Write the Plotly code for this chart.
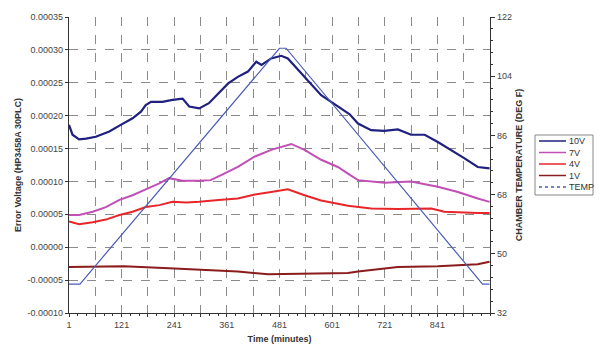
import plotly.graph_objects as go

# ---- data ----
v10_min = [1, 9, 24, 40, 62, 93, 119, 146, 165, 176, 188, 214, 237, 260, 275, 298, 320, 341, 364, 386,
           409, 428, 440, 462, 485, 500, 538, 576, 614, 641, 660, 690, 720, 751, 781, 812, 842, 872, 903, 933, 960]
v10_val = [0.000186, 0.000171, 0.000164, 0.000165, 0.000168, 0.000176, 0.000186, 0.000196, 0.000206, 0.000216,
           0.000221, 0.000221, 0.000224, 0.000226, 0.000214, 0.000211, 0.000219, 0.000234, 0.000249, 0.000259,
           0.000267, 0.000282, 0.000277, 0.000287, 0.000291, 0.000287, 0.000259, 0.000231, 0.000214, 0.000202,
           0.000188, 0.000178, 0.000177, 0.000179, 0.000171, 0.000171, 0.000160, 0.000148, 0.000135, 0.000122, 0.000120]

v7_min = [1, 24, 55, 85, 116, 146, 176, 207, 229, 260, 298, 324, 349, 386, 425, 462, 508, 538, 576, 614,
          637, 660, 720, 781, 842, 888, 933, 960]
v7_val = [0.000049, 0.000049, 0.000054, 0.000061, 0.000072, 0.000079, 0.000088, 0.000097, 0.000105, 0.000101,
          0.000101, 0.000102, 0.000110, 0.000122, 0.000138, 0.000148, 0.000157, 0.000148, 0.000133, 0.000122,
          0.000112, 0.000102, 0.000098, 0.000100, 0.000092, 0.000084, 0.000074, 0.000069]

v4_min = [1, 24, 55, 85, 116, 146, 176, 207, 237, 268, 298, 324, 349, 386, 425, 462, 500, 538, 576, 614,
          637, 690, 751, 827, 857, 933, 960]
v4_val = [0.000039, 0.000035, 0.000038, 0.000042, 0.000049, 0.000054, 0.000061, 0.000064, 0.000069, 0.000068,
          0.000069, 0.000070, 0.000072, 0.000074, 0.000080, 0.000084, 0.000088, 0.000079, 0.000071, 0.000066,
          0.000063, 0.000059, 0.000058, 0.000059, 0.000054, 0.000052, 0.000052]

v1_min = [1, 126, 229, 324, 386, 455, 538, 637, 660, 751, 842, 933, 960]
v1_val = [-0.000030, -0.000029, -0.000032, -0.000035, -0.000037, -0.000041, -0.000040, -0.000039,
          -0.000037, -0.000030, -0.000029, -0.000026, -0.000022]

temp_min = [1, 26, 481, 496, 944, 960]
temp_val = [40.8, 40.8, 112.5, 112.5, 40.8, 40.8]

series_names = ["10V", "7V", "4V", "1V", "TEMP"]
series_colors = ["#1f2080", "#c24fb6", "#e8262a", "#8b1c1c", "#4b5cb5"]

x_tickvals = [1, 61, 121, 181, 241, 301, 361, 421, 481, 541, 601, 661, 721, 781, 841, 901]
x_ticktext = ["1", "", "121", "", "241", "", "361", "", "481", "", "601", "", "721", "", "841", ""]
y_tickvals = [-0.0001, -0.00005, 0.0, 0.00005, 0.0001, 0.00015, 0.0002, 0.00025, 0.0003, 0.00035]
y_ticktext = ["-0.00010", "-0.00005", "0.00000", "0.00005", "0.00010", "0.00015",
              "0.00020", "0.00025", "0.00030", "0.00035"]
t_tickvals = [32, 50, 68, 86, 104, 122]

FONT = "Liberation Sans, Arial, sans-serif"
W, H = 600, 350
ML, MR, MT, MB = 69, 110, 17, 37
PW, PH = W - ML - MR, H - MT - MB


def px(x):
    return (x - ML) / PW


def py(y):
    return 1 - (y - MT) / PH


fig = go.Figure()
xs = [v10_min, v7_min, v4_min, v1_min]
ys = [v10_val, v7_val, v4_val, v1_val]
widths = [2.2, 2, 2, 2]
for i in range(4):
    fig.add_trace(go.Scatter(x=xs[i], y=ys[i], mode="lines", name=series_names[i],
                             line=dict(color=series_colors[i], width=widths[i])))
fig.add_trace(go.Scatter(x=temp_min, y=temp_val, mode="lines", name="TEMP", yaxis="y2",
                         line=dict(color=series_colors[4], width=1.2)))

# custom compact legend (Plotly's legend rows are taller than the reference's)
shapes = [dict(type="rect", xref="paper", yref="paper", x0=px(535), x1=px(593), y0=py(135), y1=py(195),
               line=dict(color="#888", width=1), fillcolor="white", layer="above")]
annotations = []
for i, name in enumerate(series_names):
    yy = 141 + i * 11.5
    shapes.append(dict(type="line", xref="paper", yref="paper", x0=px(539), x1=px(566), y0=py(yy), y1=py(yy),
                       line=dict(color=series_colors[i], width=1.5 if i < 4 else 1.3,
                                 dash="solid" if i < 4 else "dot"), layer="above"))
    annotations.append(dict(xref="paper", yref="paper", x=px(566.5), y=py(yy), text=name, showarrow=False,
                            xanchor="left", yanchor="middle", font=dict(size=9, color="#333")))

grid = dict(showgrid=True, gridcolor="#8a8a8a", griddash="dash", gridwidth=1)

fig.update_layout(
    width=W, height=H,
    margin=dict(l=ML, r=MR, t=MT, b=MB, autoexpand=False),
    paper_bgcolor="white", plot_bgcolor="white",
    font=dict(family=FONT, size=9, color="#444"),
    showlegend=False,
    shapes=shapes, annotations=annotations,
    xaxis=dict(range=[1, 961], tickmode="array", tickvals=x_tickvals, ticktext=x_ticktext,
               showline=True, linecolor="#333", linewidth=1.2, ticks="outside", ticklen=3,
               tickcolor="#333", zeroline=False, automargin=False,
               minor=dict(ticks="outside", ticklen=2, dtick=20, tick0=1, tickcolor="#333", showgrid=False),
               title=dict(text="<b>Time (minutes)</b>", font=dict(size=9, color="#333"), standoff=6),
               **grid),
    yaxis=dict(range=[-0.0001, 0.00035], tickmode="array", tickvals=y_tickvals, ticktext=y_ticktext,
               showline=True, linecolor="#333", linewidth=1.2, ticks="outside", ticklen=3,
               tickcolor="#333", zeroline=False, automargin=False,
               title=dict(text="<b>Error Voltage (HP3458A 30PLC)</b>", font=dict(size=9, color="#333"),
                          standoff=4),
               **grid),
    yaxis2=dict(range=[32, 122], overlaying="y", side="right", tickmode="array", tickvals=t_tickvals,
                showline=True, linecolor="#333", linewidth=1.2, ticks="outside", ticklen=4,
                tickcolor="#333", showgrid=False, zeroline=False, automargin=False,
                minor=dict(ticks="outside", ticklen=2, dtick=3.6, tick0=32, tickcolor="#333"),
                title=dict(text="<b>CHAMBER TEMPERATURE (DEG F)</b>", font=dict(size=9, color="#333"),
                           standoff=4)),
)

fig.write_html("out.html", config={"displayModeBar": False},
               post_script="document.body.style.margin='0';document.body.style.overflow='hidden';")
